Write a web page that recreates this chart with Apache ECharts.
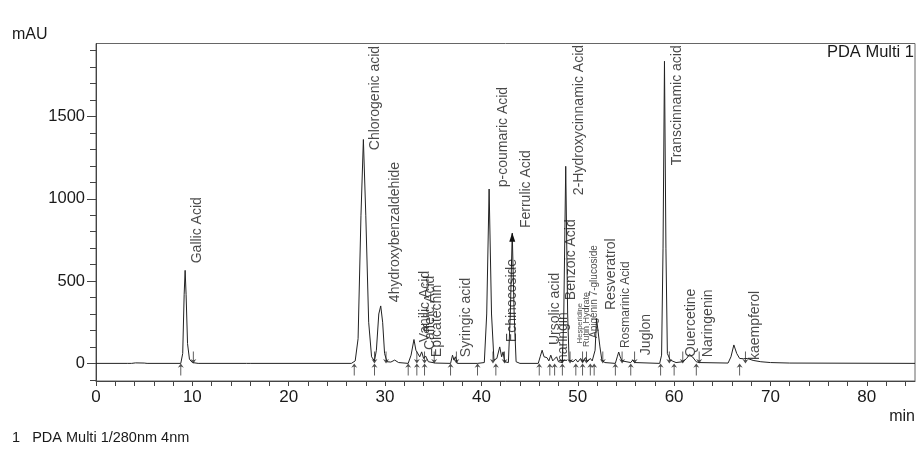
<!DOCTYPE html>
<html>
<head>
<meta charset="utf-8">
<script src="https://cdn.jsdelivr.net/npm/echarts@6/dist/echarts.min.js"></script>
<style>
html,body{margin:0;padding:0;background:#fff;}
#chart{width:920px;height:453px;}
</style>
</head>
<body>
<div id="chart"></div>
<script>
// ---- Data ----
// Trace: [retention time (min), absorbance (mAU)]
const traceTimes = [0,3.3,3.5,3.7,4.1,4.3,5.0,5.3,8.8,9.0,9.15,9.25,9.35,9.5,9.7,10.0,10.6,15.6,15.8,16.0,
  26.5,26.9,27.2,27.5,27.75,28.0,28.3,28.6,28.9,29.1,29.35,29.55,29.75,29.95,30.2,30.6,31.0,31.4,
  32.4,32.7,33.0,33.2,33.4,33.6,33.8,34.0,34.2,34.5,35.2,36.8,37.0,37.15,37.3,37.5,
  39.6,40.3,40.55,40.8,41.05,41.3,41.6,41.9,42.1,42.25,42.4,42.8,43.0,43.2,43.4,43.6,44.0,
  45.9,46.1,46.3,46.5,46.8,47.0,47.2,47.4,47.8,48.0,48.4,48.55,48.75,48.95,49.1,49.5,49.8,50.0,
  50.3,50.5,50.8,51.0,51.3,51.5,51.8,51.95,52.15,52.3,52.5,52.8,53.9,54.1,54.25,54.4,54.6,55.5,55.7,55.9,
  58.5,58.7,58.85,59.0,59.15,59.3,59.6,60.2,60.9,61.3,61.6,61.9,62.3,62.6,65.6,65.9,66.2,66.5,66.8,67.2,
  67.6,68.2,69.0,70.0,72.0,85.0];
const traceValues = [0,0,4,0,3,0,2,0,0,60,420,565,420,120,25,5,0,0,10,0,
  0,15,150,900,1360,900,250,40,15,80,300,349,250,60,10,8,20,5,
  0,50,145,80,75,40,70,30,45,10,2,0,50,20,40,0,
  0,5,300,1059,300,20,30,100,40,70,10,5,300,791,300,10,0,
  0,40,80,40,35,15,50,15,40,10,5,300,1197,300,20,10,25,8,
  30,10,35,10,30,15,80,272,272,100,20,5,0,40,69,40,15,5,20,5,
  0,50,700,1835,700,60,20,5,10,30,55,40,10,5,2,40,112,60,30,28,
  30,18,10,5,2,0];

// Peak labels: name, label anchor time (min), label anchor value (mAU)
const peakNames = ["Gallic Acid","Chlorogenic acid","4hydroxybenzaldehide","Vanilic Acid","Caffeic Acid",
  "Epicatechin","Syringic acid","p-coumaric Acid","Echinocoside","Ferrulic Acid","Ursolic acid","naringin",
  "Benzoic Acid","2-Hydroxycinnamic Acid","Hesperidine","Rutin Hydrate","Apigenin 7-glucoside","Resveratrol",
  "Rosmarinic Acid","Juglon","Transcinnamic acid","Quercetine","Naringenin","kaempferol"];
const peakLabelTimes = [10.50,28.96,31.02,34.14,34.71,35.38,38.39,42.26,43.23,44.61,47.62,48.48,
  49.29,50.10,50.26,50.94,51.66,53.50,54.95,57.13,60.27,61.79,63.52,68.36];
const peakLabelValues = [608,1295,372,129,81,38,38,1070,129,822,111,8,
  384,1022,123,99,154,324,93,50,1203,38,38,20];

// Integration markers (min)
const startMarks = [8.8,26.8,28.9,32.4,33.3,34.1,36.8,39.6,41.5,46.0,47.1,47.6,48.4,49.8,50.5,51.3,51.7,53.9,55.5,58.6,60.0,62.3,66.8];
const endMarks = [10.1,28.9,30.1,33.3,34.1,35.1,37.4,41.2,42.4,48.4,49.2,50.5,50.9,52.6,54.6,55.9,59.5,60.9,62.6,67.4];
const echinoArrow = [43.2, 791];

// Axis ticks
const xTicks = [0,2,4,6,8,10,12,14,16,18,20,22,24,26,28,30,32,34,36,38,40,42,44,46,48,50,52,54,56,58,60,62,64,66,68,70,72,74,76,78,80,82,84];
const xLabels = [0,10,20,30,40,50,60,70,80];
const yMinorTicks = [-100,100,200,300,400,600,700,800,900,1100,1200,1300,1400,1600,1700,1800,1900];
const yLabels = [0,500,1000,1500];
const yMin = -107, yMax = 1943, xMin = 0, xMax = 85;

// ---- Styles ----
const FONT = "'Liberation Sans', Arial, sans-serif";
const TXT = '#1a1a1a';
const smallFont = {"Hesperidine":7.5, "Rutin Hydrate":9, "Apigenin 7-glucoside":10, "Rosmarinic Acid":12};

const trace = traceTimes.map((t, i) => [t, traceValues[i]]);
const labelData = peakNames.map((n, i) => ({
  name: n, value: [peakLabelTimes[i], peakLabelValues[i]],
  label: { fontSize: smallFont[n] || 14 }
}));
const upArrow = 'path://M4,0 L8,5 L4.6,3.6 L4.6,14 L3.4,14 L3.4,3.6 L0,5 Z';
const downArrow = 'path://M4,14 L8,9 L4.6,10.4 L4.6,0 L3.4,0 L3.4,10.4 L0,9 Z';

const chart = echarts.init(document.getElementById('chart'), null, {renderer: 'canvas'});
const yAxisBase = {
  type: 'value', min: yMin, max: yMax, position: 'left',
  splitLine: {show: false},
  axisLine: {show: true, lineStyle: {color: '#444', width: 1}}
};
chart.setOption({
  animation: false,
  backgroundColor: '#fff',
  textStyle: {fontFamily: FONT},
  grid: {left: 96, right: 5, top: 43.5, bottom: 72, show: true, borderColor: '#666', borderWidth: 1},
  xAxis: {
    type: 'value', min: xMin, max: xMax,
    splitLine: {show: false},
    axisLine: {show: true, onZero: false, lineStyle: {color: '#444'}},
    axisTick: {show: true, length: 5, customValues: xTicks, lineStyle: {color: '#444'}},
    axisLabel: {customValues: xLabels, fontSize: 17, color: TXT, margin: 8, fontFamily: FONT,
      formatter: v => String(v)}
  },
  yAxis: [
    Object.assign({}, yAxisBase, {
      axisTick: {show: true, length: 6, customValues: yMinorTicks, lineStyle: {color: '#444'}},
      axisLabel: {show: false}
    }),
    Object.assign({}, yAxisBase, {
      axisTick: {show: true, length: 9, customValues: yLabels, lineStyle: {color: '#444'}},
      axisLabel: {customValues: yLabels, fontSize: 16.5, color: TXT, margin: 11, fontFamily: FONT,
        formatter: v => String(v)}
    })
  ],
  series: [
    {
      type: 'line', data: trace, showSymbol: false, symbol: 'none',
      lineStyle: {color: '#222', width: 1}, z: 3,
      markPoint: {
        symbol: 'path://M4,0 L8,9 L0,9 Z', symbolSize: [6, 9], symbolOffset: [0, 4],
        itemStyle: {color: '#111'}, label: {show: false},
        data: [{coord: echinoArrow}]
      }
    },
    {
      type: 'scatter', data: startMarks.map(t => [t, 0]), symbol: upArrow,
      symbolSize: [6, 12], symbolOffset: [0, 6], itemStyle: {color: '#222'}, z: 4
    },
    {
      type: 'scatter', data: endMarks.map(t => [t, 0]), symbol: downArrow,
      symbolSize: [6, 12], symbolOffset: [0, -6], itemStyle: {color: '#222'}, z: 4
    },
    {
      type: 'scatter', data: labelData, symbolSize: 0, z: 5,
      label: {
        show: true, formatter: p => p.name, position: [0, 0], rotate: 90,
        align: 'left', verticalAlign: 'middle', color: TXT, fontFamily: FONT
      }
    }
  ],
  graphic: [
    {type: 'text', left: 12, top: 27, style: {text: 'mAU', font: '16px ' + FONT, fill: TXT}},
    {type: 'text', right: 6, top: 44, style: {text: 'PDA Multi 1', font: '16.5px ' + FONT, fill: TXT}},
    {type: 'text', right: 5, top: 409, style: {text: 'min', font: '16px ' + FONT, fill: TXT}},
    {type: 'text', left: 12, top: 430, style: {text: '1   PDA Multi 1/280nm 4nm', font: '14.5px ' + FONT, fill: TXT}}
  ]
});
</script>
</body>
</html>
